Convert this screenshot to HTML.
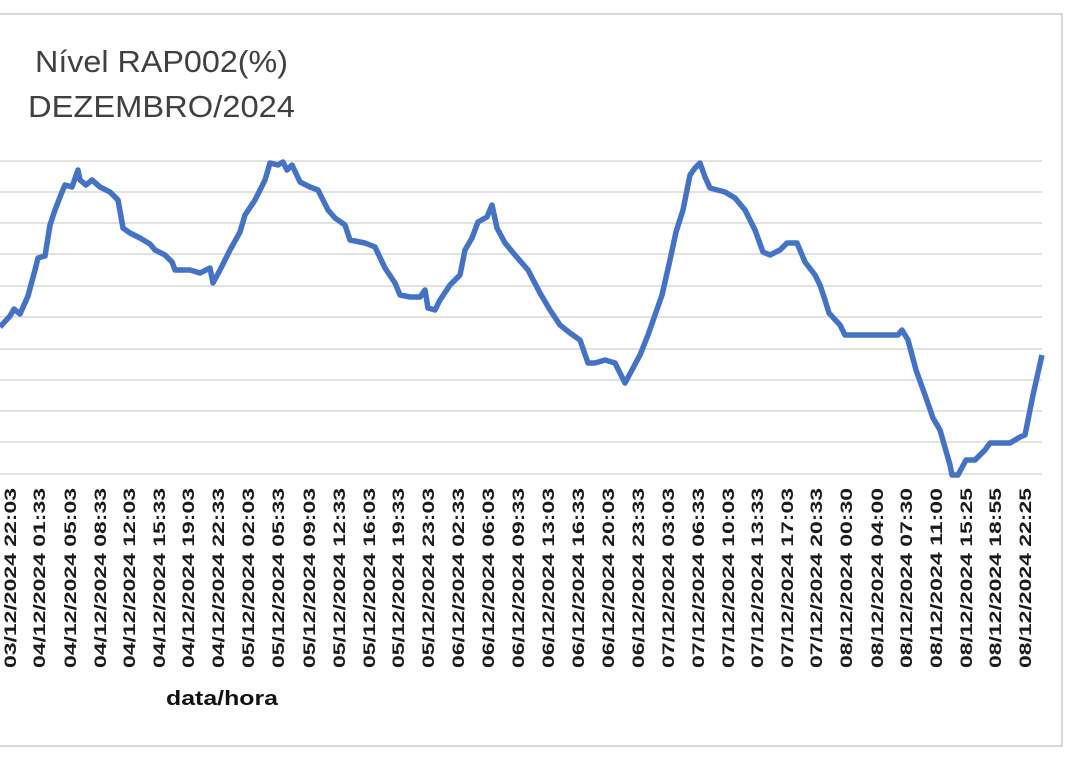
<!DOCTYPE html>
<html><head><meta charset="utf-8"><style>
html,body{margin:0;padding:0;background:#fff;}
svg{display:block;}
</style></head><body>
<svg width="1080" height="762" viewBox="0 0 1080 762" xmlns="http://www.w3.org/2000/svg">
<rect width="1080" height="762" fill="#fff"/>
<polyline points="0,14 1062,14 1062,746 0,746" fill="none" stroke="#d9d9d9" stroke-width="2"/>
<g stroke="#d9d9d9" stroke-width="1.6">
<line x1="0" x2="1042" y1="161" y2="161"/><line x1="0" x2="1042" y1="192" y2="192"/>
<line x1="0" x2="1042" y1="223" y2="223"/><line x1="0" x2="1042" y1="254" y2="254"/>
<line x1="0" x2="1042" y1="286" y2="286"/><line x1="0" x2="1042" y1="317" y2="317"/>
<line x1="0" x2="1042" y1="349" y2="349"/><line x1="0" x2="1042" y1="380" y2="380"/>
<line x1="0" x2="1042" y1="411" y2="411"/><line x1="0" x2="1042" y1="442" y2="442"/>
<line x1="0" x2="1042" y1="474" y2="474"/>
</g>
<g font-family="Liberation Sans, sans-serif" fill="#404040" font-size="31">
<text x="35" y="72" textLength="253" lengthAdjust="spacingAndGlyphs">Nível RAP002(%)</text>
<text x="28" y="117" textLength="267" lengthAdjust="spacingAndGlyphs">DEZEMBRO/2024</text>
</g>
<polyline fill="none" stroke="#4472c4" stroke-width="5.5" stroke-linejoin="round" points="0,327 10,316 14,309 20,314 28,296 35,270 38,258 45,256 50,225 55,210 62,192 65,185 72,187 78,170 80,180 86,185 92,180 100,187 110,192 118,200 123,228 130,233 140,238 150,244 155,250 165,255 172,262 175,270 190,270 200,273 210,268 213,283 220,270 230,250 240,232 245,215 255,200 265,180 270,163 278,165 283,162 287,170 292,165 300,182 310,187 318,190 328,210 335,218 345,225 350,240 365,243 375,247 385,268 395,283 400,295 410,297 420,297 425,290 428,308 435,310 440,300 450,285 460,275 465,250 472,238 478,222 487,217 492,205 497,228 505,243 515,255 528,270 540,293 550,310 560,325 570,333 580,340 588,363 595,363 605,360 615,363 625,383 632,370 640,355 648,335 655,315 662,295 670,260 676,232 683,210 690,175 695,168 700,163 705,177 710,188 725,192 735,198 745,210 755,230 763,252 770,255 780,250 787,243 797,243 805,262 815,275 820,285 825,300 829,313 840,325 845,335 860,335 898,335 902,330 908,340 916,370 925,395 933,418 940,430 950,465 952,475 958,475 966,460 975,460 985,450 990,443 1010,443 1020,437 1025,435 1033,395 1042,355"/>
<g font-family="Liberation Sans, sans-serif" font-weight="bold" font-size="17" fill="#1a1a1a" text-anchor="end">
<text transform="translate(16,488) rotate(-90)" textLength="180" lengthAdjust="spacingAndGlyphs">03/12/2024 22:03</text>
<text transform="translate(45,488) rotate(-90)" textLength="180" lengthAdjust="spacingAndGlyphs">04/12/2024 01:33</text>
<text transform="translate(76,488) rotate(-90)" textLength="180" lengthAdjust="spacingAndGlyphs">04/12/2024 05:03</text>
<text transform="translate(106,488) rotate(-90)" textLength="180" lengthAdjust="spacingAndGlyphs">04/12/2024 08:33</text>
<text transform="translate(135,488) rotate(-90)" textLength="180" lengthAdjust="spacingAndGlyphs">04/12/2024 12:03</text>
<text transform="translate(165,488) rotate(-90)" textLength="180" lengthAdjust="spacingAndGlyphs">04/12/2024 15:33</text>
<text transform="translate(194,488) rotate(-90)" textLength="180" lengthAdjust="spacingAndGlyphs">04/12/2024 19:03</text>
<text transform="translate(224,488) rotate(-90)" textLength="180" lengthAdjust="spacingAndGlyphs">04/12/2024 22:33</text>
<text transform="translate(254,488) rotate(-90)" textLength="180" lengthAdjust="spacingAndGlyphs">05/12/2024 02:03</text>
<text transform="translate(284,488) rotate(-90)" textLength="180" lengthAdjust="spacingAndGlyphs">05/12/2024 05:33</text>
<text transform="translate(315,488) rotate(-90)" textLength="180" lengthAdjust="spacingAndGlyphs">05/12/2024 09:03</text>
<text transform="translate(345,488) rotate(-90)" textLength="180" lengthAdjust="spacingAndGlyphs">05/12/2024 12:33</text>
<text transform="translate(375,488) rotate(-90)" textLength="180" lengthAdjust="spacingAndGlyphs">05/12/2024 16:03</text>
<text transform="translate(404,488) rotate(-90)" textLength="180" lengthAdjust="spacingAndGlyphs">05/12/2024 19:33</text>
<text transform="translate(434,488) rotate(-90)" textLength="180" lengthAdjust="spacingAndGlyphs">05/12/2024 23:03</text>
<text transform="translate(464,488) rotate(-90)" textLength="180" lengthAdjust="spacingAndGlyphs">06/12/2024 02:33</text>
<text transform="translate(494,488) rotate(-90)" textLength="180" lengthAdjust="spacingAndGlyphs">06/12/2024 06:03</text>
<text transform="translate(524,488) rotate(-90)" textLength="180" lengthAdjust="spacingAndGlyphs">06/12/2024 09:33</text>
<text transform="translate(554,488) rotate(-90)" textLength="180" lengthAdjust="spacingAndGlyphs">06/12/2024 13:03</text>
<text transform="translate(584,488) rotate(-90)" textLength="180" lengthAdjust="spacingAndGlyphs">06/12/2024 16:33</text>
<text transform="translate(614,488) rotate(-90)" textLength="180" lengthAdjust="spacingAndGlyphs">06/12/2024 20:03</text>
<text transform="translate(644,488) rotate(-90)" textLength="180" lengthAdjust="spacingAndGlyphs">06/12/2024 23:33</text>
<text transform="translate(674,488) rotate(-90)" textLength="180" lengthAdjust="spacingAndGlyphs">07/12/2024 03:03</text>
<text transform="translate(704,488) rotate(-90)" textLength="180" lengthAdjust="spacingAndGlyphs">07/12/2024 06:33</text>
<text transform="translate(734,488) rotate(-90)" textLength="180" lengthAdjust="spacingAndGlyphs">07/12/2024 10:03</text>
<text transform="translate(763,488) rotate(-90)" textLength="180" lengthAdjust="spacingAndGlyphs">07/12/2024 13:33</text>
<text transform="translate(793,488) rotate(-90)" textLength="180" lengthAdjust="spacingAndGlyphs">07/12/2024 17:03</text>
<text transform="translate(822,488) rotate(-90)" textLength="180" lengthAdjust="spacingAndGlyphs">07/12/2024 20:33</text>
<text transform="translate(852,488) rotate(-90)" textLength="180" lengthAdjust="spacingAndGlyphs">08/12/2024 00:30</text>
<text transform="translate(883,488) rotate(-90)" textLength="180" lengthAdjust="spacingAndGlyphs">08/12/2024 04:00</text>
<text transform="translate(912,488) rotate(-90)" textLength="180" lengthAdjust="spacingAndGlyphs">08/12/2024 07:30</text>
<text transform="translate(942,488) rotate(-90)" textLength="180" lengthAdjust="spacingAndGlyphs">08/12/2024 11:00</text>
<text transform="translate(972,488) rotate(-90)" textLength="180" lengthAdjust="spacingAndGlyphs">08/12/2024 15:25</text>
<text transform="translate(1001,488) rotate(-90)" textLength="180" lengthAdjust="spacingAndGlyphs">08/12/2024 18:55</text>
<text transform="translate(1031,488) rotate(-90)" textLength="180" lengthAdjust="spacingAndGlyphs">08/12/2024 22:25</text>
</g>
<text x="222" y="705" text-anchor="middle" font-family="Liberation Sans, sans-serif" font-weight="bold" font-size="20" fill="#111" textLength="112" lengthAdjust="spacingAndGlyphs">data/hora</text>
</svg>
</body></html>
